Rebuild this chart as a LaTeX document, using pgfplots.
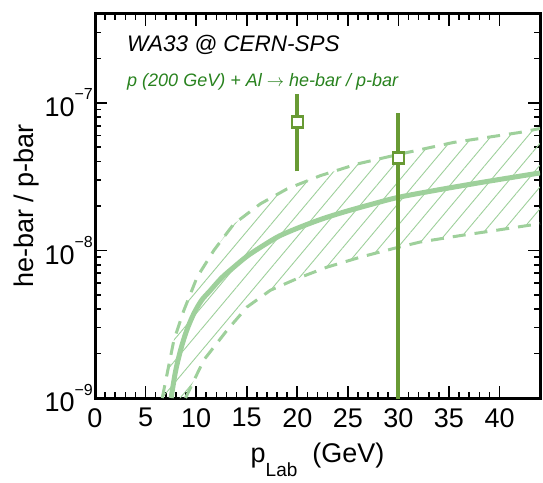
\documentclass[border=0pt]{standalone}
\usepackage{fontspec}
\setmainfont{Liberation Sans}
\usepackage{pgfplots}
\pgfplotsset{compat=1.18}
\usepgfplotslibrary{fillbetween}
\usetikzlibrary{patterns.meta}
\definecolor{datagreen}{RGB}{104,154,52}
\definecolor{curvegreen}{RGB}{158,208,155}
\definecolor{titlegreen}{RGB}{40,130,30}
\newcommand{\mysup}[1]{\raisebox{0.62em}{\fontsize{16}{16}\selectfont #1}}
\begin{document}
\begin{tikzpicture}
\begin{axis}[
  scale only axis, width=445pt, height=384pt,
  xmin=0, xmax=44, ymode=log, ymin=1e-9, ymax=4e-7,
  xtick={0,5,...,40}, minor x tick num=4,
  ytick={1e-9,1e-8,1e-7},
  yticklabels={10\mysup{−9},10\mysup{−8},10\mysup{−7}},
  minor ytick={2e-9,3e-9,4e-9,5e-9,6e-9,7e-9,8e-9,9e-9,2e-8,3e-8,4e-8,5e-8,6e-8,7e-8,8e-8,9e-8,2e-7,3e-7,4e-7},
  tick align=inside, major tick length=12pt, minor tick length=6pt,
  every tick/.style={black, line width=1.6pt},
  axis line style={line width=3pt},
  /pgf/number format/assume math mode=true,
  tick label style={font=\fontsize{27}{27}\selectfont, inner sep=0pt},
  xticklabel style={yshift=-10pt},
  yticklabel style={xshift=-2pt},
  clip mode=individual,
]
% hatched band
\addplot[name path=upper, draw=curvegreen, line width=3pt, dash pattern=on 13pt off 9pt] coordinates {
(6.65,1e-9)(7.8,2.47e-9)(8.79,3.93e-9)(10.1,6.6e-9)(11.75,1e-8)(13.72,1.51e-8)(16.36,2.07e-8)(18.98,2.61e-8)(22.28,3.21e-8)(25.9,3.85e-8)(30.17,4.5e-8)(35.44,5.39e-8)(42.0,6.3e-8)(44,6.7e-8)};
\addplot[name path=lower, draw=curvegreen, line width=3pt, dash pattern=on 13pt off 9pt] coordinates {
(8.95,1e-9)(10.76,1.81e-9)(13.06,2.88e-9)(15.04,4.14e-9)(17.34,5.37e-9)(19.97,6.44e-9)(22.93,7.7e-9)(26.23,9.0e-9)(29.5,1.03e-8)(32.15,1.14e-8)(36.1,1.26e-8)(39.4,1.36e-8)(44,1.52e-8)};
\addplot[draw=none, pattern={Lines[angle=50,distance=14pt,line width=0.9pt]}, pattern color=curvegreen] fill between[of=upper and lower];
% central curve
\addplot[curvegreen, line width=5pt, smooth, tension=0.5] coordinates {
(7.53,1e-9)(7.95,1.5e-9)(8.46,2.11e-9)(9.05,2.85e-9)(9.77,3.73e-9)(10.55,4.6e-9)(11.42,5.37e-9)(12.5,6.5e-9)(13.72,7.7e-9)(15,9.1e-9)(16.36,1.05e-8)(18.2,1.25e-8)(20.3,1.44e-8)(22.4,1.63e-8)(24.6,1.82e-8)(27.3,2.05e-8)(30,2.29e-8)(34.45,2.61e-8)(39,2.95e-8)(44,3.35e-8)};
% error bars
\addplot[datagreen, line width=4pt] coordinates {(20,3.43e-8)(20,1.15e-7)};
\addplot[datagreen, line width=4pt] coordinates {(30,5e-10)(30,8.6e-8)};
\addplot[only marks, mark=square*, mark size=5.5pt, mark options={draw=datagreen, fill=white, line width=2.5pt}] coordinates {(20,7.4e-8)(30,4.23e-8)};
\node[anchor=base west, inner sep=0pt, font=\itshape\fontsize{22.5}{22.5}\selectfont] at (axis description cs:0.072,0.902) {WA33 @ CERN-SPS};
\node[anchor=base west, inner sep=0pt, text=titlegreen, font=\itshape\fontsize{18}{18}\selectfont] at (axis description cs:0.072,0.811) {p (200 GeV) + Al {\upshape$\rightarrow$} he-bar / p-bar};
\coordinate (bl) at (axis description cs:0,0);
\node[anchor=base, inner sep=0pt, font=\fontsize{27}{27}\selectfont] at (axis description cs:0.5,-0.168) {p\raisebox{-0.5em}{\fontsize{19}{19}\selectfont Lab}\hspace{0.55em}(GeV)};
\node[anchor=base, rotate=90, inner sep=0pt, font=\fontsize{27}{27}\selectfont] at (axis description cs:-0.139,0.5) {he-bar / p-bar};
\end{axis}
\pgfresetboundingbox
\path[use as bounding box] (bl) ++(-95pt,-84pt) rectangle ++(543pt,482pt);
\end{tikzpicture}
\end{document}
